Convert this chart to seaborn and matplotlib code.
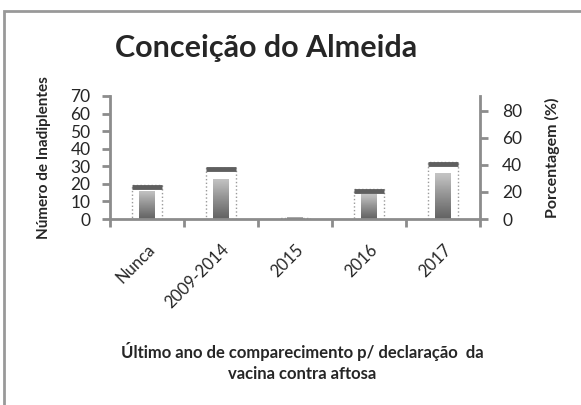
import numpy as np
import pandas as pd
import seaborn as sns
from matplotlib import pyplot as plt
from matplotlib.patches import Rectangle
from matplotlib.ticker import MultipleLocator, FixedLocator

# Categories and series.
categorias = ["Nunca", "2009-2014", "2015", "2016", "2017"]
inadimplentes = [16, 23, 1, 14, 26]
porcentagem = [25, 38, 1, 22, 42]

sns.set_style("white")
plt.rcParams["font.family"] = ["Lato", "DejaVu Sans"]

df = pd.DataFrame({"Categoria": categorias, "Inadimplentes": inadimplentes, "Porcentagem": porcentagem})

fig = plt.figure(figsize=(5.81, 4.05), dpi=100)
ax = fig.add_axes([110 / 581, 1 - 219 / 405, 370 / 581, 123 / 405])
ax2 = ax.twinx()

grey = "#8c8c8c"

# Percentage series: dotted outline bars with a dark cap at the value.
sns.barplot(data=df, x="Categoria", y="Porcentagem", ax=ax2, width=0.4,
            color="white", edgecolor="#9a9a9a", linewidth=1.0, linestyle=":")
for p in ax2.patches:
    p.set_facecolor("none")
mask = df["Porcentagem"] > 2
pos = np.arange(len(categorias))[mask]
ax2.hlines(df["Porcentagem"][mask] - 1.3, pos - 0.2, pos + 0.2, color="#5f5f5f", lw=3.5)

# Count series: grey gradient bars.
sns.barplot(data=df, x="Categoria", y="Inadimplentes", ax=ax, width=0.21, color="#a0a0a0", linewidth=0)
ax.set_zorder(ax2.get_zorder() + 1)
ax.patch.set_visible(False)
grad = np.linspace(0, 1, 100).reshape(-1, 1)
for p in list(ax.patches):
    x0, y0 = p.get_x(), p.get_y()
    w, h = p.get_width(), p.get_height()
    im = ax.imshow(grad, cmap="Greys", vmin=-1.0, vmax=1.9, aspect="auto",
                   extent=(x0, x0 + w, y0, y0 + h), origin="upper", zorder=p.get_zorder())
    im.set_clip_path(p)

ax.set_xlim(-0.5, len(categorias) - 0.5)
ax.set_ylim(0, 70)
ax2.set_ylim(0, 91)
ax.yaxis.set_major_locator(MultipleLocator(10))
ax2.yaxis.set_major_locator(FixedLocator([0, 20, 40, 60, 80]))

for a in (ax, ax2):
    for s in a.spines.values():
        s.set_visible(False)
ax.spines["left"].set_visible(True)
ax.spines["bottom"].set_visible(True)
ax2.spines["right"].set_visible(True)
for s in (ax.spines["left"], ax.spines["bottom"], ax2.spines["right"]):
    s.set_color(grey)
    s.set_linewidth(2)

ax.tick_params(axis="y", direction="out", length=6, width=2, color=grey, labelsize=12.5, pad=8, left=True)
ax2.tick_params(axis="y", direction="out", length=6, width=2, color=grey, labelsize=12.5, pad=10, right=True)
ax.set_xticks(np.arange(-0.5, len(categorias)), minor=True)
ax.tick_params(axis="x", which="minor", direction="out", length=6, width=2, color=grey, bottom=True)
ax.tick_params(axis="x", which="major", length=0, labelsize=12, pad=16)
ax.set_xticks(range(len(categorias)))
ax.set_xticklabels(categorias, rotation=45, ha="right", rotation_mode="anchor")

ax.set_xlabel("")
ax.set_ylabel("Número de Inadiplentes", fontsize=11, fontweight="bold", labelpad=14)
ax2.set_ylabel("Porcentagem (%)", fontsize=11.5, fontweight="bold", labelpad=16)

fig.text(266 / 581, 1 - 48 / 405, "Conceição do Almeida", fontsize=22, fontweight="bold", ha="center", va="center")
fig.text(302 / 581, 1 - 362 / 405, "Último ano de comparecimento p/ declaração  da\nvacina contra aftosa",
         fontsize=12, fontweight="bold", ha="center", va="center", linespacing=1.45)

fig.patches.append(Rectangle((4 / 581, -0.1), 1.2, 1 - 11 / 405 + 0.1, transform=fig.transFigure,
                             fill=False, edgecolor="#999999", lw=2))

fig.savefig("out.png", dpi=100)
